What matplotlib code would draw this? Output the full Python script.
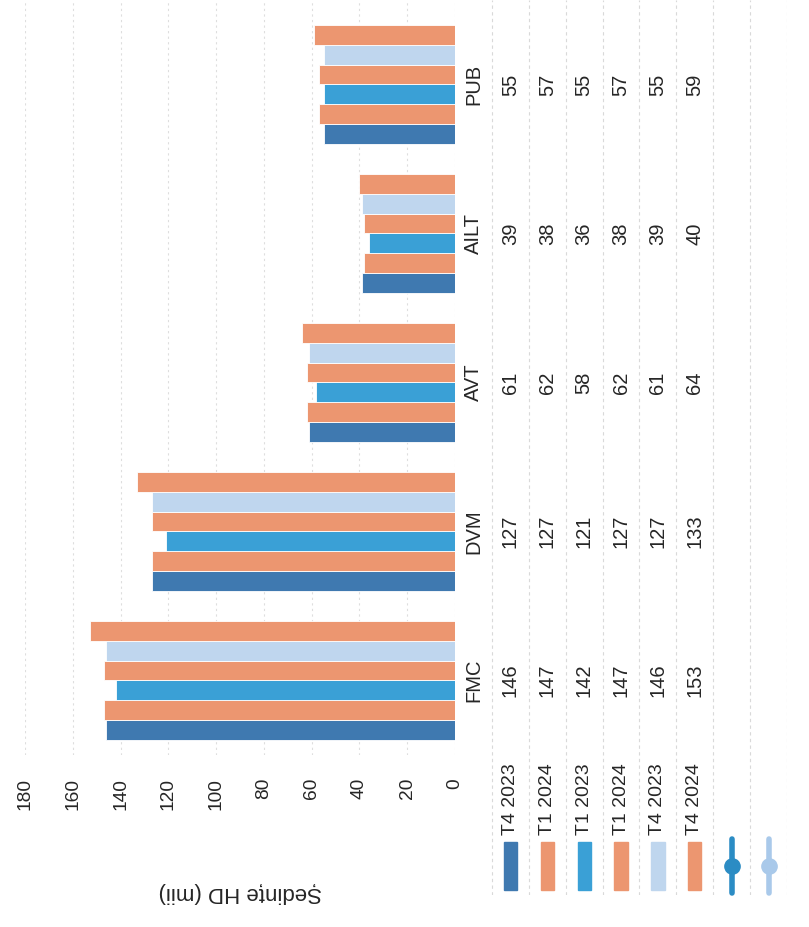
import matplotlib
matplotlib.use("Agg")
import matplotlib.pyplot as plt
from matplotlib.patches import Rectangle
import numpy as np

plt.rcParams['font.family'] = ['Liberation Sans', 'DejaVu Sans']

# data
categories = ["FMC", "DVM", "AVT", "AILT", "PUB"]
series_labels = ["T4 2023", "T1 2024", "T1 2023", "T1 2024", "T4 2023", "T4 2024"]
t4_2023_a = [146, 127, 61, 39, 55]
t1_2024_a = [147, 127, 62, 38, 57]
t1_2023 = [142, 121, 58, 36, 55]
t1_2024_b = [147, 127, 62, 38, 57]
t4_2023_b = [146, 127, 61, 39, 55]
t4_2024 = [153, 133, 64, 40, 59]
series_values = [t4_2023_a, t1_2024_a, t1_2023, t1_2024_b, t4_2023_b, t4_2024]
value_ticks = list(range(0, 181, 20))
y_label = "Ședințe HD (mii)"

bar_colors = ["#3f79b0", "#ec9670", "#3aa0d6", "#ec9670", "#bfd6ee", "#ec9670"]
line_colors = ["#2b8cc4", "#a9c9ea"]
txt = "#262626"

W, H = 809, 927
fig = plt.figure(figsize=(W / 100, H / 100), dpi=100)

# the chart is drawn turned a quarter turn: value axis runs right->left
y_top = 4.567
px_per_cat = 755 / (y_top + 0.5)
ax = fig.add_axes([25 / W, (H - 755) / H, 430 / W, 755 / H])
ax.set_xlim(180, 0)
ax.set_ylim(-0.5, y_top)

y = np.arange(len(categories))
n = len(series_values)
h = 0.8 / n
for k, (vals, col) in enumerate(zip(series_values, bar_colors)):
    ax.barh(y + (k - (n - 1) / 2) * h, vals, height=h, color=col,
            edgecolor="white", linewidth=0.6, zorder=3)

ax.set_xticks(value_ticks)
ax.set_yticks([])
ax.tick_params(axis="x", length=0, pad=16.5, labelrotation=90,
               labelsize=13.8, labelcolor=txt)
ax.grid(axis="x", color="#dedede", linestyle=(0, (2, 3)), linewidth=0.8, zorder=0)
for s in ax.spines.values():
    s.set_visible(False)
ax.set_xlabel(y_label, rotation=180, fontsize=16, color=txt, labelpad=52)

# table part (rows run left->right)
n_rows = 9
row_w = 36.9
tab_h = 895
tab = fig.add_axes([455 / W, (H - tab_h) / H, n_rows * row_w / W, tab_h / H])
tab.set_xlim(0, n_rows)
tab.set_ylim(y_top - tab_h / px_per_cat, y_top)
tab.axis("off")
for i in range(1, n_rows + 1):
    tab.axvline(i, color="#d9d9d9", linestyle=(0, (3, 3)), linewidth=0.8)

for j, cat in enumerate(categories):
    tab.text(0.5, j, cat, rotation=90, ha="center", va="center",
             fontsize=14.5, color=txt)
    for k, vals in enumerate(series_values):
        tab.text(k + 1.5, j, str(vals[j]), rotation=90, ha="center",
                 va="center", fontsize=14.5, color=txt)

xt = tab.get_xaxis_transform()
for k, (lab, col) in enumerate(zip(series_labels, bar_colors)):
    xc = k + 1.5
    tab.text(xc, (tab_h - 835) / tab_h, lab, rotation=90, ha="center",
             va="bottom", fontsize=14, color=txt, transform=xt)
    tab.add_patch(Rectangle((xc - 0.18, (tab_h - 890) / tab_h), 0.36, 48 / tab_h,
                            color=col, transform=xt, clip_on=False))
for m, col in enumerate(line_colors):
    xc = 6 + m + 1.5
    tab.plot([xc, xc], [(tab_h - 893) / tab_h, (tab_h - 839) / tab_h],
             color=col, linewidth=4, solid_capstyle="round", transform=xt,
             clip_on=False)
    tab.plot([xc], [(tab_h - 866) / tab_h], "o", color=col, markersize=11,
             transform=xt, clip_on=False)

fig.savefig("out.png", dpi=100)
